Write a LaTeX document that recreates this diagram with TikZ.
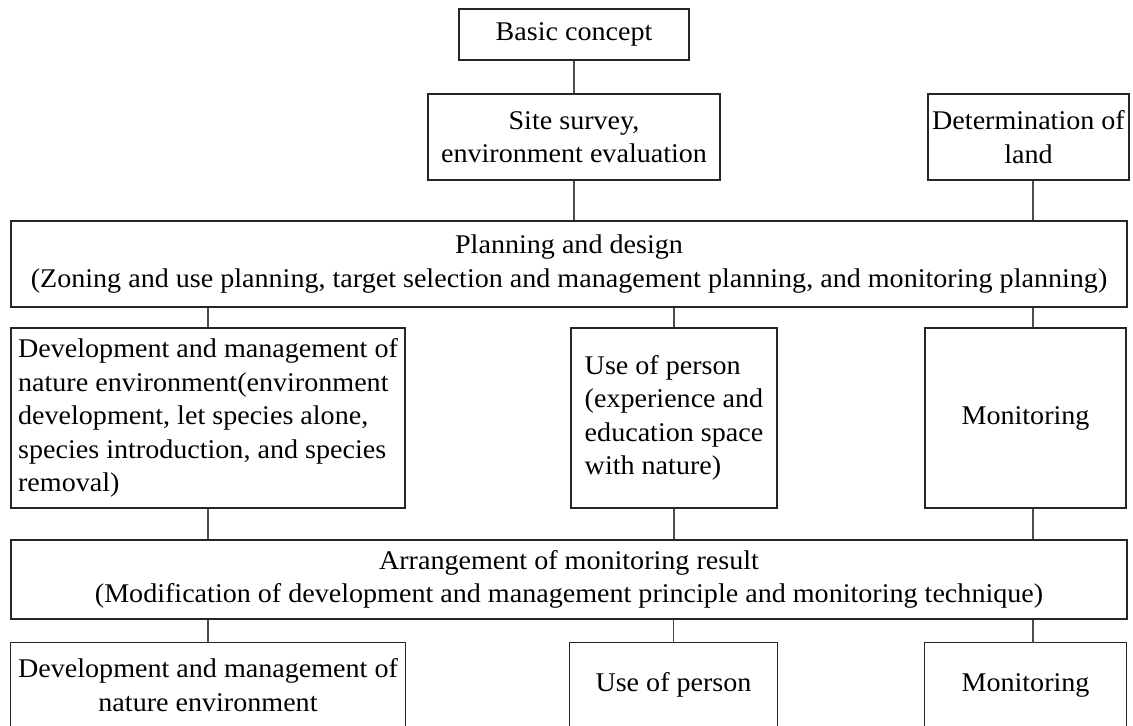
\documentclass[tikz,border=0pt]{standalone}
\usepackage{fontspec}
\setmainfont[FakeStretch=1.04]{Liberation Serif}
\begin{document}
\begin{tikzpicture}[x=0.5pt,y=-0.5pt,
  txt/.style={inner sep=0pt, font=\fontsize{13.5}{16.75}\selectfont},
  box/.style={txt, draw=black!85, line width=0.75pt, align=center},
  openbox/.style={txt, align=center},
  boxline/.style={draw=black!85, line width=0.75pt},
  conn/.style={draw=black!70, line width=0.7pt}]
\useasboundingbox (0,0) rectangle (1133,726);
% top
\node[box, minimum width=115pt, minimum height=25.5pt] (basic) at (574,34.5) {Basic concept};
\node[box, minimum width=146pt, minimum height=43pt] (site) at (574,137) {Site survey,\\environment evaluation};
\node[box, minimum width=100.5pt, minimum height=43pt] (land) at (1028.5,137) {Determination of\\land};
\node[box, minimum width=558pt, minimum height=43pt] (plan) at (569,264) {Planning and design\\(Zoning and use planning, target selection and management planning, and monitoring planning)};
% middle row
\node[box, align=left, minimum width=197pt, minimum height=90pt] (dev) at (208,418) {\rule{0pt}{6pt}Development and management of\\nature environment(environment\\development, let species alone,\\species introduction, and species\\removal)};
\node[box, align=left, minimum width=103pt, minimum height=90pt] (use) at (674,418) {\rule{0pt}{6pt}Use of person\\(experience and\\education space\\with nature)};
\node[box, minimum width=100.5pt, minimum height=90pt] (mon) at (1025.5,418) {Monitoring};
% arrangement
\node[box, minimum width=558pt, minimum height=39.5pt] (arr) at (569,579.5) {Arrangement of monitoring result\\(Modification of development and management principle and monitoring technique)};
% bottom row (open at the bottom edge)
\node[openbox, minimum width=197pt, minimum height=42pt] (dev2) at (208,685) {Development and management of\\nature environment};
\node[openbox, minimum width=103.5pt, minimum height=42pt] (use2) at (673.5,685) {Use of person};
\node[openbox, minimum width=100.5pt, minimum height=42pt] (mon2) at (1025.5,685) {Monitoring};
\foreach \n in {dev2,use2,mon2}
  \draw[boxline] (\n.south west) |- (\n.north east) -- (\n.south east);
% connectors
\coordinate (cx) at (1033,0);
\draw[conn] (basic.south) -- (site.north);
\draw[conn] (site.south) -- (site.south |- plan.north);
\draw[conn] (land.south -| cx) -- (plan.north -| cx);
\draw[conn] (plan.south -| dev.north) -- (dev.north);
\draw[conn] (plan.south -| use.north) -- (use.north);
\draw[conn] (plan.south -| cx) -- (mon.north -| cx);
\draw[conn] (dev.south) -- (arr.north -| dev.south);
\draw[conn] (use.south) -- (arr.north -| use.south);
\draw[conn] (mon.south -| cx) -- (arr.north -| cx);
\draw[conn] (arr.south -| dev2.north) -- (dev2.north);
\draw[conn] (arr.south -| use2.north) -- (use2.north);
\draw[conn] (arr.south -| cx) -- (mon2.north -| cx);
\end{tikzpicture}
\end{document}
